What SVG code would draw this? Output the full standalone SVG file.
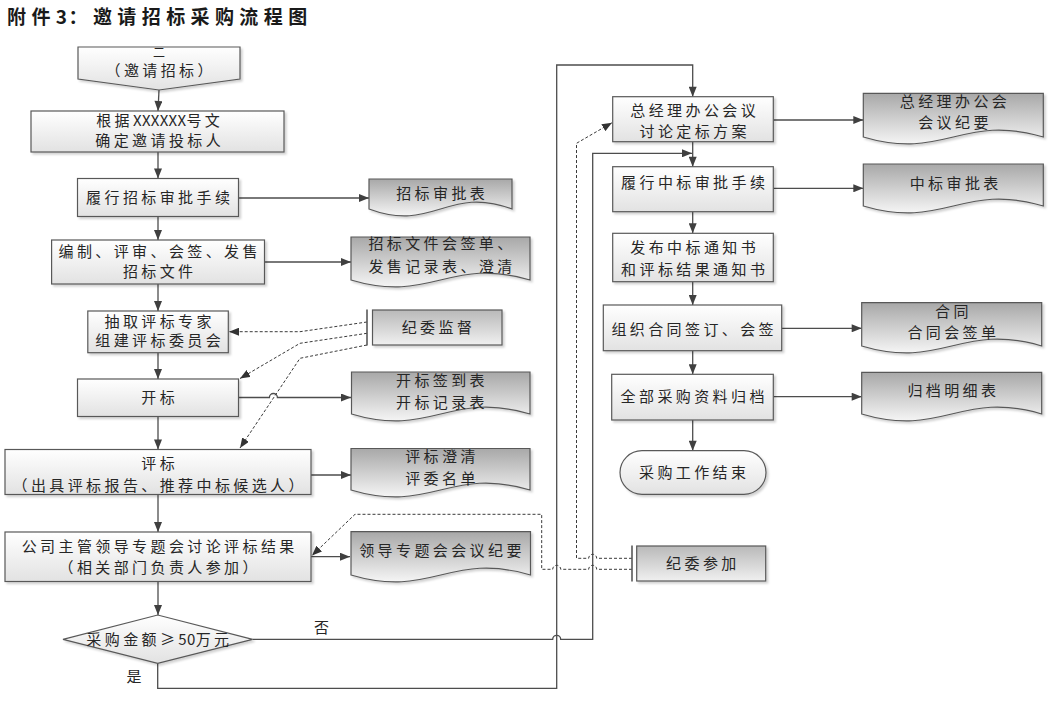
<svg xmlns="http://www.w3.org/2000/svg" width="1048" height="702" viewBox="0 0 1048 702">
<style>
.bg{fill:#ffffff}
.box{fill:url(#gBox);stroke:#595959;stroke-width:1.2;filter:url(#sh)}
.doc{fill:url(#gDoc);stroke:#595959;stroke-width:1.2;filter:url(#sh)}
.jw{fill:url(#gJw);stroke:#595959;stroke-width:1.2;filter:url(#sh)}
.brk{stroke:#595959;stroke-width:1.6;fill:none}
.t{font-family:"Noto Sans CJK SC","Noto Sans",sans-serif;font-size:15px;letter-spacing:3.4px;fill:#262626;text-anchor:middle}
.lbl{font-family:"Noto Sans CJK SC","Noto Sans",sans-serif;font-size:15px;fill:#262626;text-anchor:middle}
.title{font-family:"Noto Sans CJK SC","Noto Sans",sans-serif;font-size:19px;font-weight:bold;letter-spacing:5.4px;fill:#1a1a1a}
.lat{letter-spacing:0.3px}
.c{fill:none;stroke:#4d4d4d;stroke-width:1.3}
.ca{fill:none;stroke:#4d4d4d;stroke-width:1.3;marker-end:url(#arr)}
.da{fill:none;stroke:#3a3a3a;stroke-width:1;stroke-dasharray:3 2;marker-end:url(#arrD)}
</style>
<defs>
<linearGradient id="gBox" x1="0" y1="0" x2="0" y2="1"><stop offset="0" stop-color="#ffffff"/><stop offset="1" stop-color="#e2e2e2"/></linearGradient>
<linearGradient id="gDoc" x1="0" y1="0" x2="0" y2="1"><stop offset="0" stop-color="#a8a8a8"/><stop offset="1" stop-color="#f5f5f5"/></linearGradient>
<linearGradient id="gJw" x1="0" y1="0" x2="0" y2="1"><stop offset="0" stop-color="#b9b9b9"/><stop offset="1" stop-color="#f0f0f0"/></linearGradient>
<filter id="sh" x="-10%" y="-10%" width="130%" height="140%"><feDropShadow dx="2" dy="2" stdDeviation="1" flood-color="#000" flood-opacity="0.18"/></filter>
<marker id="arr" viewBox="0 0 10 8" refX="10" refY="4" markerWidth="11" markerHeight="8" markerUnits="userSpaceOnUse" orient="auto"><path d="M0,0 L10,4 L0,8 z" fill="#404040"/></marker>
<marker id="arrD" viewBox="0 0 10 8" refX="10" refY="4" markerWidth="10" markerHeight="8" markerUnits="userSpaceOnUse" orient="auto"><path d="M0,0 L10,4 L0,8 z" fill="#333333"/></marker>
</defs>
<rect class="bg" x="0" y="0" width="1048" height="702"/>
<text class="title" x="7" y="24">附件<tspan style="letter-spacing:1.5px">3</tspan>：邀请招标采购流程图</text>

<g id="connectors">
<line class="ca" x1="159" y1="90" x2="158" y2="111"/>
<line class="ca" x1="158" y1="152" x2="158" y2="178.5"/>
<line class="ca" x1="158" y1="216.5" x2="158" y2="240"/>
<line class="ca" x1="158" y1="284" x2="158" y2="311"/>
<line class="ca" x1="158" y1="352.7" x2="158" y2="379"/>
<line class="ca" x1="158" y1="416.5" x2="158" y2="449.5"/>
<line class="ca" x1="158" y1="494.5" x2="158" y2="532"/>
<line class="ca" x1="158" y1="581.5" x2="158" y2="615"/>
<line class="ca" x1="238.5" y1="198" x2="369" y2="198"/>
<line class="ca" x1="264.5" y1="262" x2="351" y2="262"/>
<path class="ca" d="M238.5,397.5 H269.4 a4,4 0 0 1 8,0 H351"/>
<line class="ca" x1="311" y1="475" x2="351" y2="475"/>
<line class="ca" x1="311" y1="556.7" x2="350" y2="556.7"/>
<path class="ca" d="M157.7,663.3 V688.3 H556.7 V65 H692.7 V96.7"/>
<path class="ca" d="M252.6,639.3 H552.7 a4,4 0 0 1 8,0 H592.7 V153.3 H692"/>
<line class="ca" x1="692.7" y1="141.7" x2="692.7" y2="166.7"/>
<line class="ca" x1="692.7" y1="211.7" x2="692.7" y2="233.3"/>
<line class="ca" x1="692.7" y1="281.7" x2="692.7" y2="305"/>
<line class="ca" x1="692.7" y1="350.7" x2="692.7" y2="374.3"/>
<line class="ca" x1="692.7" y1="420" x2="692.7" y2="450.7"/>
<line class="ca" x1="773.3" y1="120" x2="863.3" y2="120"/>
<line class="ca" x1="773.3" y1="188.3" x2="863.3" y2="188.3"/>
<line class="ca" x1="781.7" y1="328.3" x2="861.7" y2="328.3"/>
<line class="ca" x1="773.3" y1="396.7" x2="861.7" y2="396.7"/>
<path class="da" d="M367,322 L300,331.7 H229"/>
<path class="da" d="M367,333.3 L300,343.3 L240,378.5"/>
<path class="da" d="M367,345 L300,358.3 L240,448"/>
<path class="da" d="M632,569.3 H596.7 a4,4 0 0 0 -8,0 H560.7 a4,4 0 0 0 -8,0 H541.7 V514.3 H355 L312,555.5"/>
<path class="da" d="M632,558.3 H596.7 a4,4 0 0 0 -8,0 H576.5 V143.3 L612,122.7"/>
</g>

<g id="n-start">
<polygon class="box" points="78,47 240,47 240,79 159,90 78,79"/>
<text class="lbl" x="159" y="57" style="font-size:12px">二</text>
<text class="t" x="160.7" y="75.5">（邀请招标）</text>
</g>
<g id="n-confirm">
<rect class="box" x="31" y="111" width="253" height="41"/>
<text class="t" x="159.7" y="125.5">根据<tspan class="lat">XXXXXX</tspan>号文</text>
<text class="t" x="159.7" y="146">确定邀请投标人</text>
</g>
<g id="n-approve">
<rect class="box" x="77.5" y="178.5" width="161" height="38"/>
<text class="t" x="159.7" y="203">履行招标审批手续</text>
</g>
<g id="d-approve">
<path class="doc" d="M369,179 H512 V209 C447.6,185 433.4,233 369,209 Z"/>
<text class="t" x="442.2" y="199">招标审批表</text>
</g>
<g id="n-compile">
<rect class="box" x="51.6" y="240" width="212.9" height="44"/>
<text class="t" x="159.7" y="257">编制、评审、会签、发售</text>
<text class="t" x="159.7" y="277">招标文件</text>
</g>
<g id="d-compile">
<path class="doc" d="M351,237 H530 V280 C449.5,256 431.5,304 351,280 Z"/>
<text class="t" x="442" y="249">招标文件会签单、</text>
<text class="t" x="442" y="272">发售记录表、澄清</text>
</g>
<g id="n-expert">
<rect class="box" x="87.8" y="311" width="140.5" height="41.7"/>
<text class="t" x="159.7" y="327">抽取评标专家</text>
<text class="t" x="159.7" y="346">组建评标委员会</text>
</g>
<g id="n-jwjd">
<line class="brk" x1="367" y1="309.5" x2="367" y2="345.5"/>
<rect class="jw" x="372.5" y="310" width="129.5" height="35"/>
<text class="t" x="438.5" y="333">纪委监督</text>
</g>
<g id="n-open">
<rect class="box" x="77.5" y="379" width="161" height="37.5"/>
<text class="t" x="159.7" y="403">开标</text>
</g>
<g id="d-open">
<path class="doc" d="M351.5,372 H530 V414 C449.7,390 431.8,438 351.5,414 Z"/>
<text class="t" x="442" y="385.5">开标签到表</text>
<text class="t" x="442" y="408">开标记录表</text>
</g>
<g id="n-eval">
<rect class="box" x="5" y="449.5" width="306" height="45"/>
<text class="t" x="159.7" y="468.5">评标</text>
<text class="t" x="159.7" y="490.5">（出具评标报告、推荐中标候选人）</text>
</g>
<g id="d-eval">
<path class="doc" d="M351,448.5 H530 V490 C449.5,466 431.5,514 351,490 Z"/>
<text class="t" x="442" y="462">评标澄清</text>
<text class="t" x="442" y="483.5">评委名单</text>
</g>
<g id="n-leader">
<rect class="box" x="5" y="532" width="306" height="49.5"/>
<text class="t" x="159.7" y="551.5">公司主管领导专题会讨论评标结果</text>
<text class="t" x="159.7" y="573">（相关部门负责人参加）</text>
</g>
<g id="d-leader">
<path class="doc" d="M351,531.7 H530.5 V575 C449.7,551 431.8,599 351,575 Z"/>
<text class="t" x="442" y="555.5">领导专题会会议纪要</text>
</g>
<g id="n-decision">
<polygon class="box" points="63,639.3 157.7,615 252.6,639.3 157.7,663.3"/>
<text class="t" x="159.4" y="644.5">采购金额≥<tspan class="lat">50</tspan>万元</text>
</g>
<g id="labels">
<text class="lbl" x="321.5" y="633">否</text>
<text class="lbl" x="134" y="682">是</text>
</g>
<g id="n-jwcj">
<line class="brk" x1="632" y1="545.5" x2="632" y2="581.5"/>
<rect class="jw" x="636.7" y="546" width="129" height="35"/>
<text class="t" x="702.9" y="569">纪委参加</text>
</g>
<g id="n-gm">
<rect class="box" x="612.7" y="96.7" width="160.6" height="45"/>
<text class="t" x="694.7" y="116">总经理办公会议</text>
<text class="t" x="694.7" y="136.5">讨论定标方案</text>
</g>
<g id="d-gm">
<path class="doc" d="M863.3,93.3 H1043.3 V137 C962.3,113 944.3,161 863.3,137 Z"/>
<text class="t" x="955" y="107">总经理办公会</text>
<text class="t" x="955" y="128">会议纪要</text>
</g>
<g id="n-winapprove">
<rect class="box" x="612.7" y="166.7" width="160.6" height="45"/>
<text class="t" x="694.7" y="188">履行中标审批手续</text>
</g>
<g id="d-winapprove">
<path class="doc" d="M863.3,164 H1043.3 V206 C962.3,182 944.3,230 863.3,206 Z"/>
<text class="t" x="955.7" y="189">中标审批表</text>
</g>
<g id="n-notice">
<rect class="box" x="612.7" y="233.3" width="160.6" height="48.4"/>
<text class="t" x="694.7" y="253">发布中标通知书</text>
<text class="t" x="694.7" y="274.5">和评标结果通知书</text>
</g>
<g id="n-contract">
<rect class="box" x="603.3" y="305" width="178.4" height="45.7"/>
<text class="t" x="694.2" y="334.7">组织合同签订、会签</text>
</g>
<g id="d-contract">
<path class="doc" d="M861.7,302.7 H1041.7 V346 C960.7,322 942.7,370 861.7,346 Z"/>
<text class="t" x="953.4" y="317">合同</text>
<text class="t" x="953.4" y="338">合同会签单</text>
</g>
<g id="n-archive">
<rect class="box" x="611.7" y="374.3" width="161.6" height="45.7"/>
<text class="t" x="694.2" y="402">全部采购资料归档</text>
</g>
<g id="d-archive">
<path class="doc" d="M861.7,372.3 H1041.7 V414 C960.7,390 942.7,438 861.7,414 Z"/>
<text class="t" x="953.4" y="395.5">归档明细表</text>
</g>
<g id="n-end">
<rect class="box" x="620" y="450.7" width="146" height="43.6" rx="22" ry="21.8"/>
<text class="t" x="694.2" y="478">采购工作结束</text>
</g>
</svg>
